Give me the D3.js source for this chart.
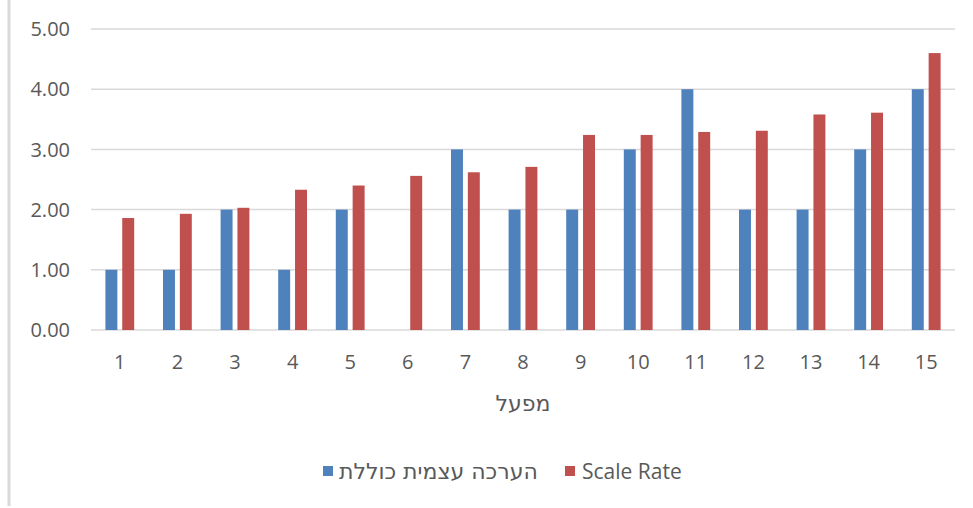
<!DOCTYPE html>
<html>
<head>
<meta charset="utf-8">
<script src="https://cdn.jsdelivr.net/npm/d3@7"></script>
<style>
    body { margin: 0; background: #fff; }
    text { font-family: "Open Sans", "DejaVu Sans", sans-serif; fill: #595959; }
    text.he { font-family: "DejaVu Sans", sans-serif; }
</style>
</head>
<body>
<div id="chart"></div>
<script>
const categories = ['1', '2', '3', '4', '5', '6', '7', '8', '9', '10', '11', '12', '13', '14', '15'];
const selfRating = [1, 1, 2, 1, 2, 0, 3, 2, 2, 3, 4, 2, 2, 3, 4];
const scaleRate = [1.86, 1.93, 2.03, 2.33, 2.40, 2.56, 2.62, 2.71, 3.24, 3.24, 3.29, 3.31, 3.58, 3.61, 4.60];
const seriesNames = ['הערכה עצמית כוללת', 'Scale Rate'];
const yTicks = [0, 1, 2, 3, 4, 5];

const colors = ['#4F81BD', '#C0504D'];

const width = 973;
const height = 508;

const svg = d3.select('#chart')
    .append('svg')
    .attr('width', width)
    .attr('height', height);

// frame on the left, like the cropped chart border
svg.append('line')
    .attr('x1', 9).attr('x2', 9)
    .attr('y1', 0).attr('y2', 506)
    .attr('stroke', '#d9d9d9')
    .attr('stroke-width', 3);

const x = d3.scaleBand()
    .domain(categories)
    .range([91, 955])
    .paddingInner(0.5)
    .paddingOuter(0.25);

const xSeries = d3.scaleBand()
    .domain([0, 1])
    .range([0, x.bandwidth()])
    .paddingInner(0.29);

const y = d3.scaleLinear()
    .domain([0, 5])
    .range([330, 29]);

// gridlines
svg.append('g')
    .selectAll('line')
    .data(yTicks)
    .enter()
    .append('line')
    .attr('x1', 91)
    .attr('x2', 955)
    .attr('y1', d => y(d))
    .attr('y2', d => y(d))
    .attr('stroke', '#d9d9d9')
    .attr('stroke-width', 1.5);

// y labels
svg.append('g')
    .selectAll('text')
    .data(yTicks)
    .enter()
    .append('text')
    .attr('x', 70)
    .attr('y', d => y(d))
    .attr('dy', '0.36em')
    .attr('text-anchor', 'end')
    .style('font-size', '20px')
    .text(d => d3.format('.2f')(d));

const rows = categories.map((c, i) => ({ cat: c, values: [selfRating[i], scaleRate[i]] }));

const groups = svg.append('g')
    .selectAll('g')
    .data(rows)
    .enter()
    .append('g')
    .attr('transform', d => `translate(${x(d.cat)},0)`);

groups.selectAll('rect')
    .data(d => d.values)
    .enter()
    .append('rect')
    .attr('x', (d, i) => xSeries(i))
    .attr('width', xSeries.bandwidth())
    .attr('y', d => y(d))
    .attr('height', d => y(0) - y(d))
    .attr('fill', (d, i) => colors[i]);

// x labels
svg.append('g')
    .selectAll('text')
    .data(categories)
    .enter()
    .append('text')
    .attr('x', d => x(d) + x.bandwidth() / 2)
    .attr('y', 362)
    .attr('dy', '0.36em')
    .attr('text-anchor', 'middle')
    .style('font-size', '20px')
    .text(d => d);

// axis title
svg.append('text')
    .attr('class', 'he')
    .attr('x', 523)
    .attr('y', 403)
    .attr('dy', '0.36em')
    .attr('text-anchor', 'middle')
    .style('font-size', '22px')
    .text('מפעל');

// legend
const legendX = [323, 565];
const legendSize = [22, 21];
const legend = svg.append('g');

seriesNames.forEach((name, i) => {
    const row = legend.append('g')
        .attr('transform', `translate(${legendX[i]}, 471)`);

    row.append('rect')
        .attr('x', 0)
        .attr('y', -5)
        .attr('width', 10)
        .attr('height', 10)
        .attr('fill', colors[i]);

    row.append('text')
        .attr('class', i === 0 ? 'he' : null)
        .attr('x', i === 0 ? 16 : 17)
        .attr('y', 0)
        .attr('dy', '0.36em')
        .attr('text-anchor', 'start')
        .style('font-size', legendSize[i] + 'px')
        .text(name);
});
</script>
</body>
</html>
